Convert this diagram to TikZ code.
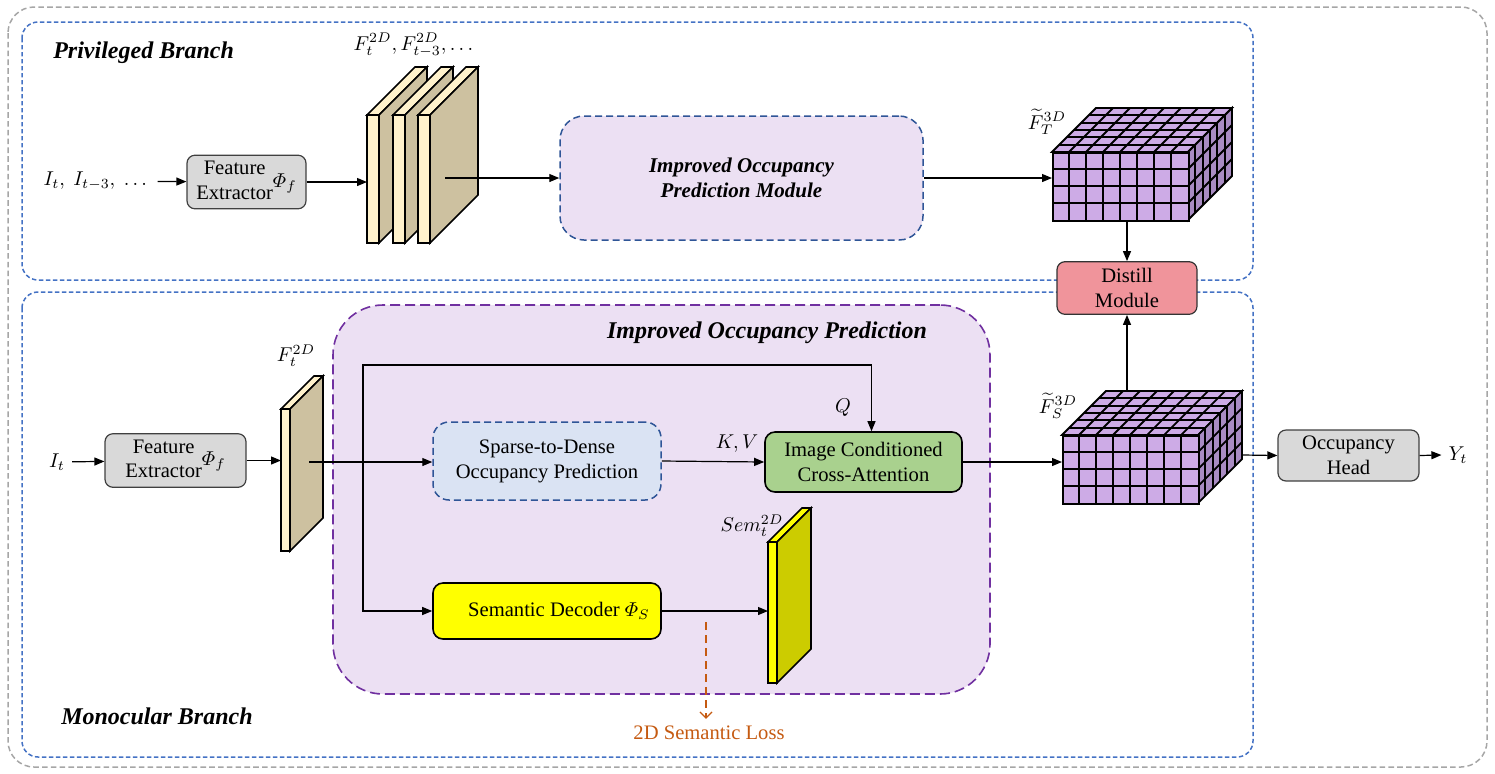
\documentclass[tikz,border=0pt]{standalone}
\usepackage{amsmath}
\usepackage{fontspec}
\setmainfont{Liberation Serif}
\usetikzlibrary{arrows.meta}

\definecolor{boxgray}{HTML}{D9D9D9}
\definecolor{mapfront}{HTML}{FFF2CC}
\definecolor{mapside}{HTML}{CDC1A0}
\definecolor{occfill}{HTML}{ECE0F3}
\definecolor{branchblue}{HTML}{4472C4}
\definecolor{modblue}{HTML}{2F5597}
\definecolor{occpurple}{HTML}{7030A0}
\definecolor{voxfront}{HTML}{CDABE6}
\definecolor{voxside}{HTML}{A98CC3}
\definecolor{distpink}{HTML}{F0949B}
\definecolor{sparseblue}{HTML}{DAE3F3}
\definecolor{attgreen}{HTML}{A9D18E}
\definecolor{semyellow}{HTML}{FFFF00}
\definecolor{semside}{HTML}{CCCC00}
\definecolor{lossorange}{HTML}{C55A11}

% x, ytop, ybot, width, depth, front, side
\newcommand{\featmap}[7]{%
  \filldraw[fill=#6,line width=0.8pt] (#1,#2) -- ++(#5,-#5) -- ++(#4,0) -- (#1+#4,#2) -- cycle;
  \filldraw[fill=#7,line width=0.8pt] (#1+#4,#2) -- ++(#5,-#5) -- (#1+#4+#5,#3-#5) -- (#1+#4,#3) -- cycle;
  \filldraw[fill=#6,line width=0.8pt] (#1,#2) rectangle (#1+#4,#3);
}
% x, y of front top left, name
\newcommand{\voxcube}[3]{%
  \begin{scope}[shift={(#1,#2)},line width=0.9pt]
    \filldraw[fill=voxfront] (0,0) -- (44,-44) -- (180,-44) -- (136,0) -- cycle;
    \filldraw[fill=voxside] (136,0) -- (180,-44) -- (180,24) -- (136,68) -- cycle;
    \node[draw,fill=voxfront,inner sep=0pt,minimum width=68pt,minimum height=34pt,anchor=north west] at (0,0) (#3) {};
    \foreach \i in {1,...,7} \draw (17*\i,68) -- ++(0,-68) -- ++(44,-44);
    \foreach \i in {1,2,3} \draw (0,17*\i) -- ++(136,0) -- ++(44,-44);
    \foreach \j in {1,...,5} \draw ({44*\j/6},{-44*\j/6}) -- ++(136,0) -- ++(0,68);
  \end{scope}
}

\begin{document}
\begin{tikzpicture}[x=0.5pt,y=-0.5pt,line width=0.6pt,
      >={Triangle[length=5pt,width=4pt]},
      font=\fontsize{10.3}{12.4}\selectfont,
      mytitle/.style={font=\fontsize{12}{14}\selectfont\bfseries\itshape},
      graybox/.style={draw=black!75,fill=boxgray,rounded corners=4pt,inner sep=1pt},
      branch/.style={draw=branchblue,line width=0.75pt,dash pattern=on 2.2pt off 1.3pt,rounded corners=8pt},
      modbox/.style={draw=modblue,line width=0.75pt,dash pattern=on 3.5pt off 2pt,rounded corners=#1},
      lossarrow/.style={draw=lossorange,line width=0.6pt,dash pattern=on 4pt off 2.5pt,
        -{Straight Barb[length=3pt,width=6pt]}}]
    \useasboundingbox (0,0) rectangle (1495,773);
    \draw[black!35,line width=0.75pt,dash pattern=on 2.8pt off 1.6pt,rounded corners=13pt] (8,7) rectangle (1487,767);
    \draw[branch] (22,22) rectangle (1253,280);
    \draw[branch] (22,292) rectangle (1253,757);
    \node[mytitle,anchor=west] at (46,53) (privlabel) {Privileged Branch};
    \node[mytitle,anchor=west] at (54,716) (monolabel) {Monocular Branch};

    \node at (97,181) (inT) {$I_t,\ I_{t-3},\ \dots$};
    \node[graybox,minimum width=59.5pt,minimum height=25pt] at (246.5,182) (feT)
      {\begin{tabular}{@{}c@{}}Feature\\Extractor\end{tabular}$\varPhi_f$};
    \featmap{367}{115}{243}{12}{48}{mapfront}{mapside}
    \featmap{393}{115}{243}{12}{48}{mapfront}{mapside}
    \featmap{418}{115}{243}{12}{48}{mapfront}{mapside}
    \coordinate (mapT) at (445,178);
    \node[anchor=south] at (415,64) (mapTlabel) {$F_t^{2D},F_{t-3}^{2D},\dots$};
    \node[modbox=12pt,fill=occfill,minimum width=181.5pt,minimum height=62pt,
      font=\fontsize{10.5}{12.5}\selectfont\bfseries\itshape,align=center] at (741.5,178) (iopT)
      {Improved Occupancy\\Prediction Module};
    \voxcube{1052}{152}{cubeT}
    \node at (1047,122) (cubeTlabel) {$\widetilde{F}_T^{3D}$};
    \node[draw=black!80,fill=distpink,rounded corners=4pt,minimum width=70pt,minimum height=25pt,align=center]
      at (1127,288) (distill) {Distill\\Module};

    \draw[->] (inT) -- (feT);
    \draw[->] (feT.east) -- (367,182);
    \draw[->] (mapT) -- (iopT.west |- mapT);
    \draw[->] (iopT.east) -- (iopT.east -| cubeT.west);
    \draw[->] (cubeT.south -| distill.north) -- (distill.north);

    \node[draw=occpurple,fill=occfill,line width=0.8pt,dash pattern=on 5pt off 2.5pt,rounded corners=25pt,
      minimum width=328.5pt,minimum height=194.5pt] at (661.5,499.5) (iop) {};
    \node[mytitle] at (767,333) (ioplabel) {Improved Occupancy Prediction};

    \node at (57,462) (inS) {$I_t$};
    \node[graybox,minimum width=70.5pt,minimum height=25.5pt] at (175.5,460.5) (feS)
      {\begin{tabular}{@{}c@{}}Feature\\Extractor\end{tabular}$\varPhi_f$};
    \featmap{281}{409}{551}{9}{33}{mapfront}{mapside}
    \coordinate (mapS) at (309,462);
    \node[anchor=south] at (296,374) (mapSlabel) {$F_t^{2D}$};
    \node[modbox=8pt,fill=sparseblue,minimum width=114pt,minimum height=39pt,align=center]
      at (547,461) (sparse) {Sparse-to-Dense\\Occupancy Prediction};
    \node[draw,fill=attgreen,line width=0.8pt,rounded corners=5pt,minimum width=98.5pt,minimum height=30pt,align=center]
      at (863.5,462) (ica) {Image Conditioned\\Cross-Attention};
    \node[draw,fill=semyellow,line width=0.8pt,rounded corners=5pt,minimum width=114pt,minimum height=28pt]
      at (547,611) (semdec) {\hspace{12pt}Semantic Decoder $\varPhi_S$};
    \featmap{768}{542}{683}{9}{34}{semyellow}{semside}
    \node[anchor=east,inner sep=1pt] at (786,526) (semlabel) {$Sem_t^{2D}$};
    \voxcube{1062}{435}{cubeS}
    \node at (1058,406) (cubeSlabel) {$\widetilde{F}_S^{3D}$};
    \node[graybox,minimum width=70.5pt,minimum height=25.5pt,align=center] at (1348.5,455.5) (ohead)
      {Occupancy\\Head};
    \node at (1458,455) (outS) {$Y_t$};
    \node[text=lossorange] at (709,733) (loss) {2D Semantic Loss};

    \coordinate (junc) at (363,462);
    \coordinate (qtop) at (363,365);
    \coordinate (cubeSback) at (1128,391);
    \coordinate (cubeSside) at (1243,455);
    \coordinate (losstop) at (706,622);
    \draw[->] (inS) -- (feS);
    \draw[->] (feS.east) -- (281,460.5);
    \draw[->] (mapS) -- (sparse.west |- mapS);
    \draw[->] (junc) -- (qtop) -| ([xshift=4pt]ica.north);
    \draw[->] (junc) |- (semdec.west);
    \draw[->] (sparse.east) -- (ica.west);
    \node at (737,444) (kv) {$K,V$};
    \node at (843,408) (q) {$Q$};
    \draw[->] (ica.east) -- (ica.east -| cubeS.west);
    \draw[->] (semdec.east) -- (768,611);
    \draw[->] (cubeSback -| distill.south) -- (distill.south);
    \draw[->] (cubeSside) -- (ohead.west);
    \draw[->] (ohead.east) -- (outS.west);
    \draw[lossarrow] (losstop) -- (losstop |- loss.north);
  \end{tikzpicture}
\end{document}
